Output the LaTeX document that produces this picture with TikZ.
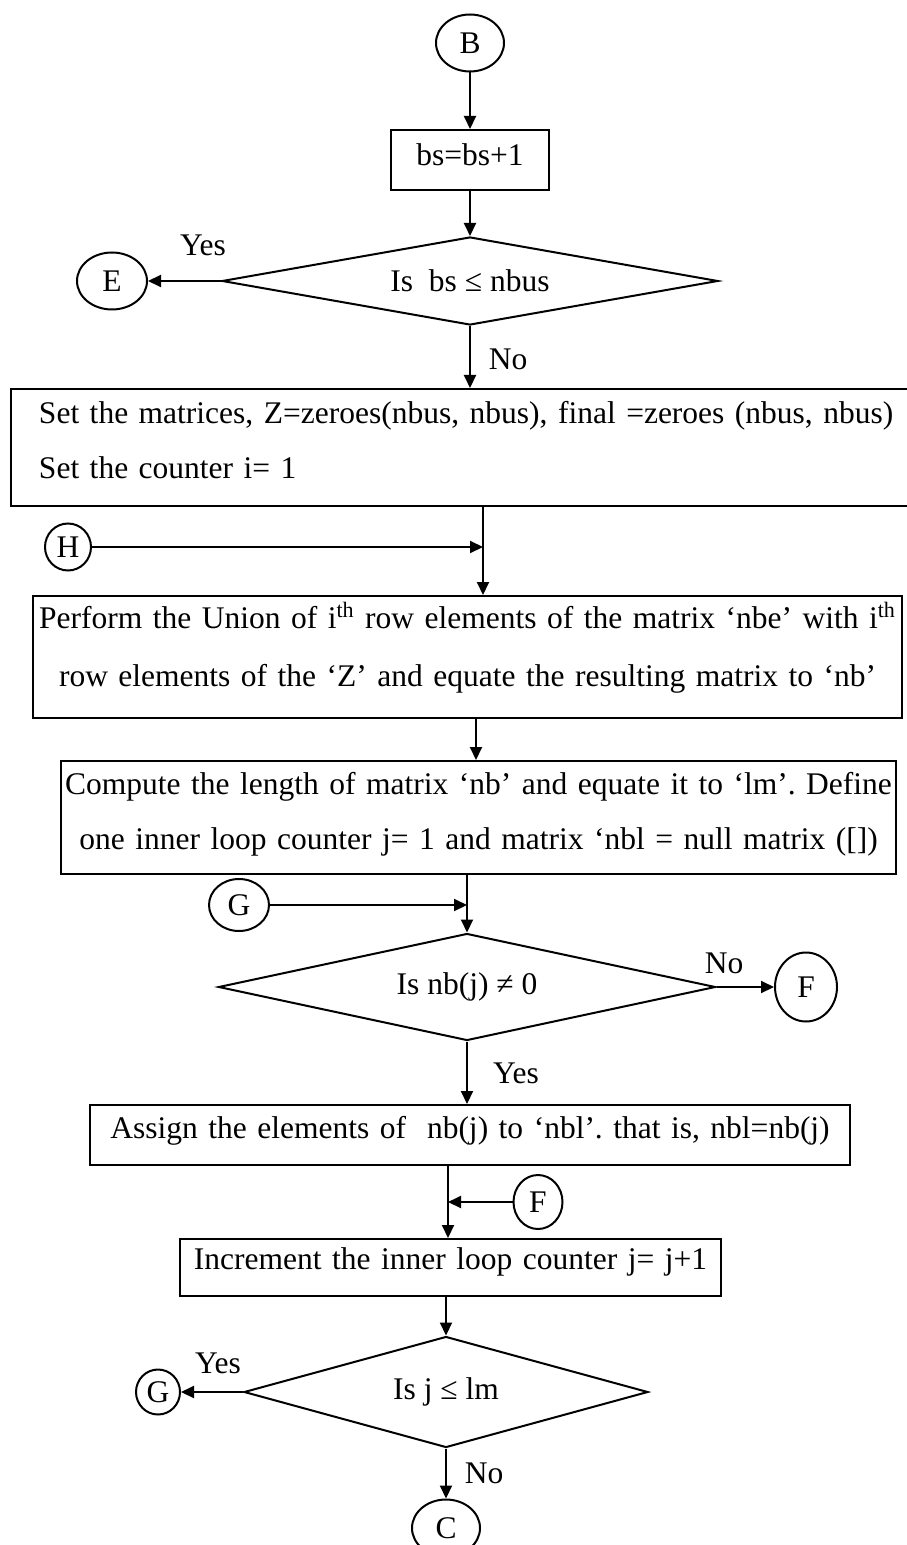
\documentclass[tikz,border=0pt]{standalone}
\usepackage{fontspec}
\setmainfont{Liberation Serif}
\frenchspacing
\usetikzlibrary{shapes, arrows.meta, positioning}
\tikzstyle{caja} = [draw, rectangle, line width=1pt, inner sep=0pt, anchor=north, align=center, font=\fontsize{15.75pt}{27.5pt}\selectfont]
\tikzstyle{decision} = [draw, diamond, line width=1pt, inner sep=0pt, font=\fontsize{15.75pt}{20pt}\selectfont]
\tikzstyle{conector} = [draw, ellipse, line width=1pt, inner sep=0pt, font=\fontsize{15.75pt}{20pt}\selectfont]
\tikzstyle{etiqueta} = [anchor=base, inner sep=0pt, font=\fontsize{15.75pt}{20pt}\selectfont]
\tikzstyle{flecha} = [-{Triangle[length=6.5pt,width=6pt]}, line width=1pt]

\begin{document}
\begin{tikzpicture}[x=0.5pt, y=-0.5pt]
	\useasboundingbox (0,0) rectangle (906,1545);
	\node[conector, minimum width=34pt, minimum height=28.5pt] (B) at (470,43) {B};
	\node[caja, text width=79pt, text height=18pt, text depth=12pt] (incr) at (470,129) {bs=bs+1};
	\node[decision, aspect=5.6, minimum width=248pt, minimum height=44pt] (test1) at (470,281) {Is\ \ bs ≤ nbus};
	\node[conector, minimum width=35pt, minimum height=28.5pt] (E) at (112,281) {E};
	\node[caja, anchor=north west, align=left, inner xsep=14pt, text width=440pt, text height=17pt, text depth=41.5pt] (matrices) at (10,388) {Set the matrices, Z=zeroes(nbus, nbus), final =zeroes (nbus, nbus)\\Set the counter i= 1};
	\node[conector, minimum width=23pt, minimum height=23.5pt] (H) at (68,547) {H};
	\coordinate (hj) at (483,547);
	\node[caja, text width=434.5pt, text height=16pt, text depth=45pt, font=\fontsize{15.75pt}{29pt}\selectfont] (union) at (467.5,595) {Perform the Union of i\textsuperscript{th} row elements of the matrix `nbe' with i\textsuperscript{th}\\row elements of the `Z' and equate the resulting matrix to `nb'};
	\node[caja, text width=417.5pt, text height=16.5pt, text depth=40pt] (length) at (478.5,760) {Compute the length of matrix `nb' and equate it to `lm'. Define\\one inner loop counter j= 1 and matrix `nbl = null matrix ([])};
	\node[conector, minimum width=30pt, minimum height=26pt] (G) at (239,905) {G};
	\coordinate (gj) at (467,905);
	\node[decision, aspect=4.6, minimum width=248.5pt, minimum height=53.5pt] (test2) at (467,987) {Is nb(j) ≠ 0};
	\node[conector, minimum width=31pt, minimum height=34.5pt] (F) at (806,987) {F};
	\node[caja, text width=380pt, text height=16.5pt, text depth=13.5pt] (assign) at (470,1104) {Assign the elements of\ \ nb(j) to `nbl'. that is, nbl=nb(j)};
	\node[conector, minimum width=24.5pt, minimum height=27pt] (F2) at (538,1202) {F};
	\coordinate (fj) at (448,1202);
	\node[caja, text width=270.5pt, text height=15pt, text depth=13.5pt] (incj) at (450.5,1238) {Increment the inner loop counter j= j+1};
	\node[decision, aspect=3.6, minimum width=202pt, minimum height=55.5pt] (test3) at (446,1392) {Is j ≤ lm};
	\node[conector, minimum width=22pt, minimum height=22.5pt] (G2) at (158,1392) {G};
	\node[conector, minimum width=34pt, minimum height=28.5pt] (C) at (446,1528) {C};

	\draw[flecha] (B) -- (incr);
	\draw[flecha] (incr) -- (test1);
	\draw[flecha] (test1) -- (E);
	\draw[flecha] (test1.south) -- (test1.south |- matrices.north);
	\draw[flecha] (H) -- (hj);
	\draw[flecha] (hj |- matrices.south) -- (hj |- union.north);
	\draw[flecha] ([xshift=4.25pt]union.south) -- ([xshift=4.25pt]union.south |- length.north);
	\draw[flecha] (G) -- (gj);
	\draw[flecha] (gj |- length.south) -- (test2);
	\draw[flecha] (test2) -- (F);
	\draw[flecha] (test2) -- (test2 |- assign.north);
	\draw[flecha] (F2) -- (fj);
	\draw[flecha] (fj |- assign.south) -- (fj |- incj.north);
	\draw[flecha] (incj.south -| test3) -- (test3);
	\draw[flecha] (test3) -- (G2);
	\draw[flecha] (test3) -- (C);

	\node[etiqueta] (si1) at (203,256) {Yes};
	\node[etiqueta] (no1) at (508,370) {No};
	\node[etiqueta] (no2) at (724,973) {No};
	\node[etiqueta] (si2) at (516,1083) {Yes};
	\node[etiqueta] (si3) at (218,1373) {Yes};
	\node[etiqueta] (no3) at (484,1483) {No};
\end{tikzpicture}
\end{document}
